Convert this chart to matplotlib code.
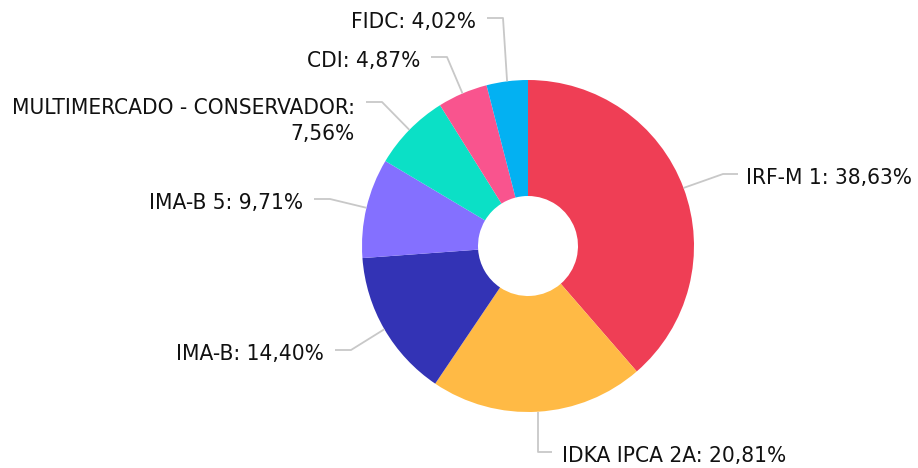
import numpy as np
import matplotlib
matplotlib.use("Agg")
import matplotlib.pyplot as plt
from matplotlib import font_manager

# data
categories = ["IRF-M 1", "IDKA IPCA 2A", "IMA-B", "IMA-B 5",
              "MULTIMERCADO - CONSERVADOR", "CDI", "FIDC"]
shares = [38.63, 20.81, 14.40, 9.71, 7.56, 4.87, 4.02]
colors = ["#EF3E55", "#FFBA45", "#3333B5", "#8470FF",
          "#0BE0C6", "#F9548E", "#03B1F2"]

W, H = 918, 468
CX, CY = 528, H - 246   # pie centre in pixel units (y up)
R, HOLE = 166, 50

# label layout: elbow point (px, y from top), side, line break
layout = {
    "IRF-M 1": dict(elbow=(723, 174), side="right"),
    "IDKA IPCA 2A": dict(elbow=(539, 452), side="right", vertical=True),
    "IMA-B": dict(elbow=(351, 350), side="left"),
    "IMA-B 5": dict(elbow=(330, 199), side="left"),
    "MULTIMERCADO - CONSERVADOR": dict(elbow=(382, 102), side="left", wrap=True),
    "CDI": dict(elbow=(447, 57), side="left"),
    "FIDC": dict(elbow=(503, 18), side="left"),
}

condensed = any("Condensed" in f.fname and "DejaVuSans" in f.fname
                for f in font_manager.fontManager.ttflist)

plt.rcParams["font.family"] = ["DejaVu Sans"]

fig = plt.figure(figsize=(W / 100, H / 100), dpi=100)
ax = fig.add_axes([0, 0, 1, 1])

wedges, _ = ax.pie(shares, colors=colors, startangle=90, counterclock=False,
                   center=(CX, CY), radius=R,
                   wedgeprops=dict(width=R - HOLE, linewidth=0))

ax.set_xlim(0, W)
ax.set_ylim(0, H)
ax.set_aspect("equal")
ax.axis("off")

line_kw = dict(color="#C8C8C8", linewidth=1.3, solid_capstyle="butt")
if condensed:
    txt_kw = dict(fontsize=16.2, fontstretch="condensed", color="#111111")
else:
    txt_kw = dict(fontsize=14.2, color="#111111")

for w, cat, val in zip(wedges, categories, shares):
    ang = np.deg2rad((w.theta1 + w.theta2) / 2)
    ex, ey = CX + R * np.cos(ang), CY + R * np.sin(ang)
    cfg = layout[cat]
    bx, by = cfg["elbow"][0], H - cfg["elbow"][1]
    pct = f"{val:.2f}".replace(".", ",") + "%"
    if cfg.get("wrap"):
        text = f"{cat}:\n{pct}"
    else:
        text = f"{cat}: {pct}"
    if cfg["side"] == "right":
        if cfg.get("vertical"):
            ax.plot([ex, ex, ex + 14], [ey, by, by], **line_kw)
            tx = ex + 24
        else:
            ax.plot([ex, bx, bx + 15], [ey, by, by], **line_kw)
            tx = bx + 23
        ax.text(tx, by - 4, text, ha="left", va="center", **txt_kw)
    else:
        ax.plot([ex, bx, bx - 16], [ey, by, by], **line_kw)
        tx = bx - 27
        if cfg.get("wrap"):
            ax.text(tx, by + 4, text, ha="right", va="top", linespacing=1.4,
                    multialignment="right", **txt_kw)
        else:
            ax.text(tx, by - 4, text, ha="right", va="center", **txt_kw)

fig.savefig("out.png", dpi=100)
